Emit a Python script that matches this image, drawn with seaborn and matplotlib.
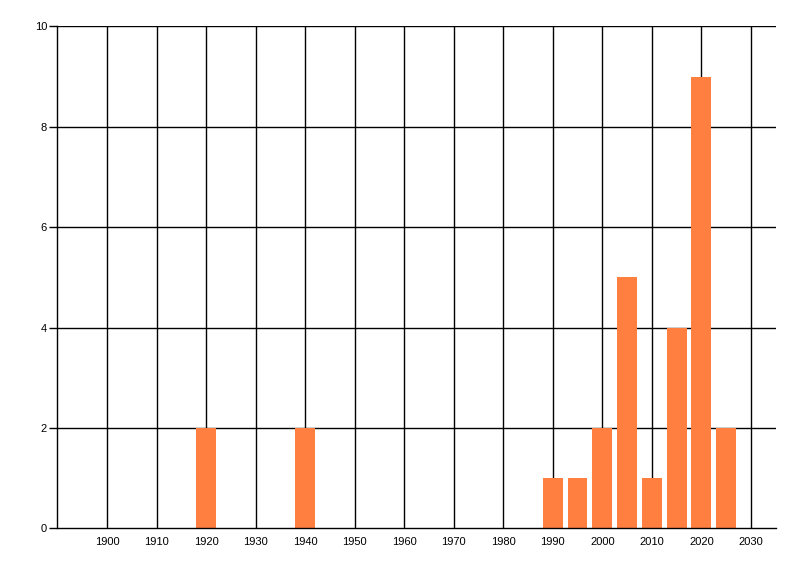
import matplotlib
matplotlib.use("Agg")
import matplotlib.pyplot as plt
import seaborn as sns
import pandas as pd

years = [1920, 1940, 1990, 1995, 2000, 2005, 2010, 2015, 2020, 2025]
counts = [2, 2, 1, 1, 2, 5, 1, 4, 9, 2]
xticks = list(range(1900, 2031, 10))
yticks = [0, 2, 4, 6, 8, 10]

sns.set_theme(style="white")
plt.rcParams['font.family'] = ['Liberation Sans', 'DejaVu Sans']

df = pd.DataFrame({"year": years, "count": counts})

fig = plt.figure(figsize=(8, 5.76), dpi=100)
ax = fig.add_axes([57.5/800, (576-528.3)/576, (775.7-57.5)/800, (528.3-26.3)/576])

ax.set_axisbelow(True)
for x in xticks:
    ax.axvline(x, color="black", lw=1.0, zorder=0)
for y in yticks[1:]:
    ax.axhline(y, color="black", lw=1.0, zorder=0)

sns.barplot(data=df, x="year", y="count", native_scale=True, width=0.8,
            color="#FF7F41", saturation=1, edgecolor="none", linewidth=0,
            errorbar=None, ax=ax, zorder=2)

ax.set_xlim(1890, 2035)
ax.set_ylim(0, 10)
ax.set_xticks(xticks)
ax.set_yticks(yticks)
ax.set_xticklabels([str(v) for v in xticks], fontsize=8, color="black")
ax.set_yticklabels([str(v) for v in yticks], fontsize=8, color="black")
ax.tick_params(axis="y", length=6, width=1, color="black", pad=1.5, left=True)
ax.tick_params(axis="x", length=0, pad=6, bottom=True)
ax.set_xlabel("")
ax.set_ylabel("")

for s in ["top", "right"]:
    ax.spines[s].set_visible(False)
for s in ["left", "bottom"]:
    ax.spines[s].set_visible(True)
    ax.spines[s].set_color("black")
    ax.spines[s].set_linewidth(1.0)

fig.savefig("out.png", dpi=100, facecolor="white")
